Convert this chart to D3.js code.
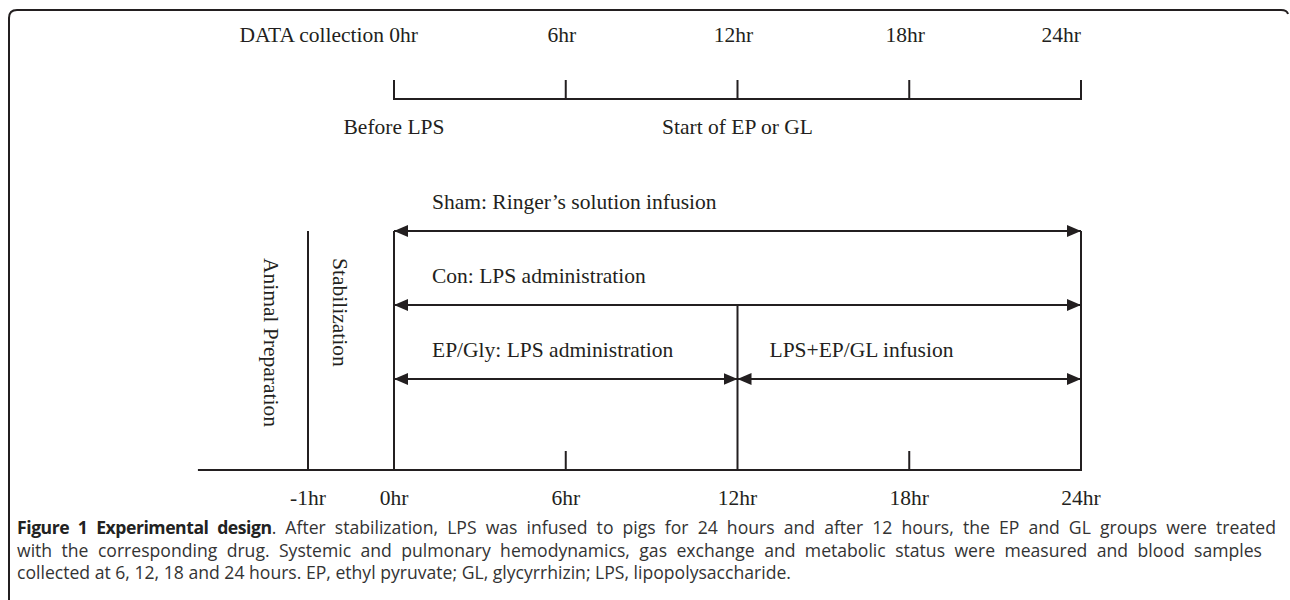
<!DOCTYPE html>
<html>
<head>
<meta charset="utf-8">
<script src="https://cdn.jsdelivr.net/npm/d3@7"></script>
<style>
  html, body { margin: 0; padding: 0; background: #fff; }
  svg { display: block; }
</style>
</head>
<body>
<svg id="chart" width="1290" height="600"></svg>
<script>
// ---------------- data ----------------
const topTickHours   = [0, 6, 12, 18, 24];
const topTickLabels  = ["DATA collection 0hr", "6hr", "12hr", "18hr", "24hr"];
const phaseHours     = [0, 12];
const phaseLabels    = ["Before LPS", "Start of EP or GL"];

const groupLabels    = ["Sham: Ringer\u2019s solution infusion", "Con: LPS administration", "EP/Gly: LPS administration", "LPS+EP/GL infusion"];
const groupStartHr   = [0, 0, 0, 12];
const groupEndHr     = [24, 24, 12, 24];
const groupRow       = [0, 1, 2, 2];

const bottomTickHours  = [-1, 0, 6, 12, 18, 24];
const bottomTickLabels = ["-1hr", "0hr", "6hr", "12hr", "18hr", "24hr"];
const fullLineHours    = [-1, 0, 24];   // tall vertical lines from the top arrow row
const midLineHours     = [12];          // vertical line from the second arrow row
const shortTickHours   = [6, 18];
const timelineStartHr  = -2.28;

const phaseBoxLabels = ["Animal Preparation", "Stabilization"];

const captionBold  = "Figure 1 Experimental design";
const captionLines = [
  ". After stabilization, LPS was infused to pigs for 24 hours and after 12 hours, the EP and GL groups were treated",
  "with the corresponding drug. Systemic and pulmonary hemodynamics, gas exchange and metabolic status were measured and blood samples",
  "collected at 6, 12, 18 and 24 hours. EP, ethyl pyruvate; GL, glycyrrhizin; LPS, lipopolysaccharide."
];

// ---------------- drawing ----------------
const svg = d3.select("#chart");
const ink = "#231f20";
const serif = "'Liberation Serif', 'Times New Roman', serif";
const fs = 21.5;

const x = d3.scaleLinear().domain([-1, 0, 24]).range([308, 394, 1081]);
const rowY = d3.scaleLinear().domain([0, 2]).range([231, 379]);

// border
svg.append("path")
  .attr("d", "M9,600 V18 Q9,10 17,10 H1281 Q1287,10 1288,14")
  .attr("fill", "none").attr("stroke", ink).attr("stroke-width", 2);

// arrow marker
const defs = svg.append("defs");
["start", "end"].forEach(k => {
  defs.append("marker")
    .attr("id", "arr-" + k)
    .attr("viewBox", "0 0 14 12")
    .attr("refX", 14).attr("refY", 6)
    .attr("markerWidth", 14).attr("markerHeight", 12)
    .attr("markerUnits", "userSpaceOnUse")
    .attr("orient", k === "start" ? "auto-start-reverse" : "auto")
    .append("path").attr("d", "M0,0 L14,6 L0,12 Z").attr("fill", ink);
});

// ---- top timeline ----
const topY = 99, topTickLen = 19;
const gTop = svg.append("g");
gTop.append("line")
  .attr("x1", x(topTickHours[0])).attr("x2", x(topTickHours[topTickHours.length - 1]))
  .attr("y1", topY).attr("y2", topY)
  .attr("stroke", ink).attr("stroke-width", 2);
gTop.selectAll("line.tick").data(topTickHours).join("line")
  .attr("class", "tick")
  .attr("x1", d => x(d)).attr("x2", d => x(d))
  .attr("y1", topY - topTickLen).attr("y2", topY + 1)
  .attr("stroke", ink).attr("stroke-width", 2);
const lastTop = topTickHours.length - 1;
gTop.selectAll("text.tl").data(topTickHours).join("text")
  .attr("class", "tl")
  .attr("x", d => x(d))
  .attr("dx", (d, i) => i === 0 ? 24 : (i === lastTop ? 0 : -4))
  .attr("y", 42)
  .attr("text-anchor", (d, i) => (i === 0 || i === lastTop) ? "end" : "middle")
  .attr("font-family", serif).attr("font-size", fs).attr("fill", ink)
  .text((d, i) => topTickLabels[i]);
gTop.selectAll("text.ph").data(phaseHours).join("text")
  .attr("class", "ph")
  .attr("x", d => x(d)).attr("y", 134)
  .attr("text-anchor", "middle")
  .attr("font-family", serif).attr("font-size", fs).attr("fill", ink)
  .text((d, i) => phaseLabels[i]);

// ---- bottom timeline ----
const baseY = 470, shortLen = 19;
const gBot = svg.append("g");
gBot.append("line")
  .attr("x1", x(timelineStartHr)).attr("x2", x(24))
  .attr("y1", baseY).attr("y2", baseY)
  .attr("stroke", ink).attr("stroke-width", 2);
gBot.selectAll("line.full").data(fullLineHours).join("line")
  .attr("class", "full")
  .attr("x1", d => x(d)).attr("x2", d => x(d))
  .attr("y1", rowY(0)).attr("y2", baseY + 1)
  .attr("stroke", ink).attr("stroke-width", 2);
gBot.selectAll("line.mid").data(midLineHours).join("line")
  .attr("class", "mid")
  .attr("x1", d => x(d)).attr("x2", d => x(d))
  .attr("y1", rowY(1)).attr("y2", baseY + 1)
  .attr("stroke", ink).attr("stroke-width", 2);
gBot.selectAll("line.short").data(shortTickHours).join("line")
  .attr("class", "short")
  .attr("x1", d => x(d)).attr("x2", d => x(d))
  .attr("y1", baseY - shortLen).attr("y2", baseY)
  .attr("stroke", ink).attr("stroke-width", 2);
gBot.selectAll("text.bl").data(bottomTickHours).join("text")
  .attr("class", "bl")
  .attr("x", d => x(d)).attr("y", 505)
  .attr("text-anchor", "middle")
  .attr("font-family", serif).attr("font-size", fs).attr("fill", ink)
  .text((d, i) => bottomTickLabels[i]);

// ---- group arrows ----
const gGrp = svg.append("g");
gGrp.selectAll("line.arrow").data(groupLabels).join("line")
  .attr("class", "arrow")
  .attr("x1", (d, i) => x(groupStartHr[i])).attr("x2", (d, i) => x(groupEndHr[i]))
  .attr("y1", (d, i) => rowY(groupRow[i])).attr("y2", (d, i) => rowY(groupRow[i]))
  .attr("stroke", ink).attr("stroke-width", 2)
  .attr("marker-start", "url(#arr-start)").attr("marker-end", "url(#arr-end)");
gGrp.selectAll("text.gl").data(groupLabels).join("text")
  .attr("class", "gl")
  .attr("x", (d, i) => x(groupStartHr[i]) + (groupStartHr[i] === 0 ? 38 : 32))
  .attr("y", (d, i) => rowY(groupRow[i]) - 22)
  .attr("font-family", serif).attr("font-size", fs).attr("fill", ink)
  .text(d => d);

// ---- vertical phase labels ----
const vertX = [264, 333];
svg.selectAll("text.vl").data(phaseBoxLabels).join("text")
  .attr("class", "vl")
  .attr("transform", (d, i) => `translate(${vertX[i]},258) rotate(90)`)
  .attr("font-family", serif).attr("font-size", fs).attr("fill", ink)
  .text(d => d);

// ---- caption ----
const capFont = "'Open Sans', 'Noto Sans', sans-serif";
const capX = 17, capY0 = 534, capDy = 22.5;
const capTargets = [1276, 1262, null];
captionLines.forEach((line, i) => {
  const t = svg.append("text")
    .attr("x", capX).attr("y", capY0 + i * capDy)
    .attr("font-family", capFont).attr("font-size", 17.6).attr("fill", "#333");
  if (i === 0) {
    t.append("tspan").attr("font-weight", "bold").attr("fill", "#222")
      .attr("letter-spacing", "-0.45px").text(captionBold);
  }
  t.append("tspan").text(line);
  if (capTargets[i]) {
    const natural = t.node().getComputedTextLength();
    const full = (i === 0 ? captionBold : "") + line;
    const spaces = (full.match(/ /g) || []).length;
    const extra = (capTargets[i] - capX - natural) / spaces;
    t.style("word-spacing", extra + "px");
  }
});
</script>
</body>
</html>
